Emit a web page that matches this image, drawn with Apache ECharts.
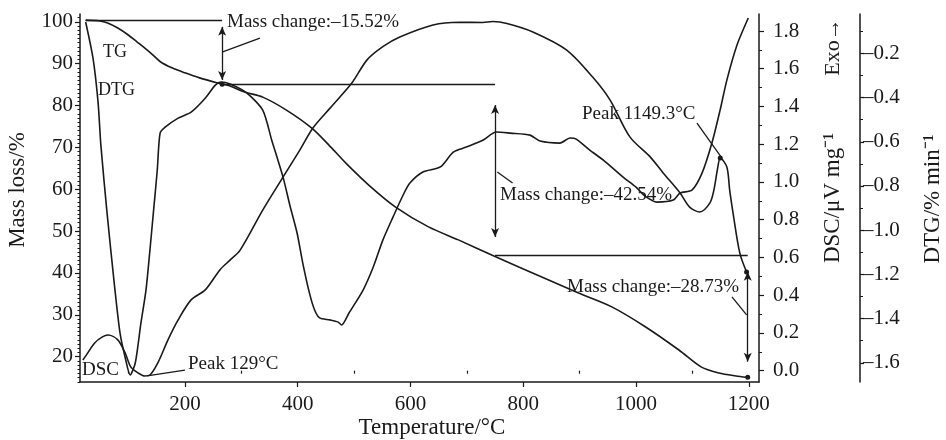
<!DOCTYPE html>
<html>
<head>
<meta charset="utf-8">
<script src="https://cdn.jsdelivr.net/npm/echarts@6.0.0/dist/echarts.min.js"></script>
<style>
  html, body { margin: 0; padding: 0; background: #fff; }
  #chart { width: 946px; height: 440px; }
</style>
</head>
<body>
<div id="chart"></div>
<script>
// TG curve (mass loss %)
const tgT = [24, 49, 63, 81, 99, 115, 129, 143, 157, 177, 200, 226, 258, 279, 306, 338, 380, 425, 455, 485, 526, 573, 632, 685, 744, 792, 845, 898, 957, 1017, 1076, 1116, 1147, 1177, 1196];
const tgMass = [100.4, 100.2, 99.7, 98.5, 96.9, 95.2, 93.7, 92.1, 90.4, 89.0, 87.8, 86.6, 85.4, 84.7, 83.2, 82.0, 78.9, 74.6, 70.6, 66.3, 61.0, 55.8, 51.0, 47.9, 44.3, 41.4, 38.3, 35.2, 31.9, 27.1, 21.6, 17.5, 16.1, 15.4, 15.1];

// DTG curve (% / min)
const dtgT = [24, 37, 46, 51, 62, 76, 85, 94, 103, 112, 122, 131, 138, 144, 151, 156, 165, 188, 211, 236, 254, 264, 280, 310, 338, 354, 374, 386, 399, 409, 421, 430, 439, 457, 471, 478, 491, 516, 534, 551, 569, 587, 599, 622, 653, 676, 699, 729, 752, 777, 812, 830, 865, 883, 894, 918, 942, 977, 1000, 1016, 1037, 1066, 1078, 1099, 1117, 1135, 1149, 1161, 1179, 1199];
const dtgRate = [-0.058, -0.221, -0.421, -0.615, -0.923, -1.271, -1.466, -1.575, -1.655, -1.601, -1.421, -1.271, -1.09, -0.924, -0.729, -0.561, -0.534, -0.493, -0.466, -0.403, -0.344, -0.330, -0.339, -0.38, -0.457, -0.593, -0.76, -0.886, -1.014, -1.149, -1.286, -1.361, -1.397, -1.406, -1.415, -1.429, -1.375, -1.271, -1.167, -1.045, -0.941, -0.841, -0.787, -0.737, -0.714, -0.647, -0.624, -0.592, -0.556, -0.561, -0.57, -0.597, -0.606, -0.583, -0.588, -0.638, -0.683, -0.76, -0.805, -0.846, -0.873, -0.864, -0.832, -0.819, -0.742, -0.601, -0.457, -0.321, -0.162, -0.04];

// DSC curve (uV/mg)
const dscT = [19, 23, 40, 53, 64, 81, 94, 104, 117, 129, 138, 152, 170, 188, 211, 236, 262, 280, 298, 338, 374, 404, 427, 457, 496, 523, 551, 581, 640, 687, 728, 746, 771, 817, 877, 923, 954, 989, 1025, 1048, 1078, 1095, 1113, 1131, 1138, 1145, 1149.3, 1161, 1166, 1172, 1184, 1196];
const dscHeat = [0.057, 0.073, 0.147, 0.178, 0.189, 0.163, 0.094, 0.02, -0.012, -0.028, -0.023, 0.041, 0.163, 0.269, 0.375, 0.428, 0.534, 0.586, 0.639, 0.851, 1.026, 1.17, 1.286, 1.39, 1.524, 1.647, 1.717, 1.768, 1.832, 1.846, 1.845, 1.85, 1.84, 1.795, 1.699, 1.556, 1.434, 1.239, 1.133, 1.048, 0.942, 0.867, 0.841, 0.889, 0.957, 1.079, 1.127, 1.079, 0.957, 0.835, 0.623, 0.523];

// tick labels
const tempTicks = [200, 400, 600, 800, 1000, 1200];
const tempMinor = [100, 300, 500, 700, 900, 1100];
const massTicks = [20, 30, 40, 50, 60, 70, 80, 90, 100];
const dscTicks = [0, 0.2, 0.4, 0.6, 0.8, 1.0, 1.2, 1.4, 1.6, 1.8];
const dscMinor = [0.1, 0.3, 0.5, 0.7, 0.9, 1.1, 1.3, 1.5, 1.7];
const dtgTicks = [-1.6, -1.4, -1.2, -1.0, -0.8, -0.6, -0.4, -0.2];
const dtgMinor = [-1.5, -1.3, -1.1, -0.9, -0.7, -0.5, -0.3, -0.1];

// mass change steps (temperature, mass level)
const stepT = [24, 266, 750, 1198];
const stepMass = [100.4, 85.1, 44.3];
const arrowEnds = [[98.8, 86.1], [80.1, 48.6], [40.3, 18.8]];

const FONT = "'Liberation Serif', 'Times New Roman', serif";
const INK = '#1a1a1a';

let massMinor = [];
for (let m = 14; m <= 101; m++) {
  if (m % 10 !== 0) massMinor.push(m);
}

function zip(xs, ys) {
  let arr = [];
  for (let i = 0; i < xs.length; i++) arr.push([xs[i], ys[i]]);
  return arr;
}

function txt(x, y, s, size, align, rot) {
  return {
    type: 'text', x: x, y: y, rotation: rot || 0, z: 10,
    style: {
      text: s, font: size + 'px ' + FONT, fill: INK,
      textAlign: align || 'left', textVerticalAlign: 'middle',
      align: align || 'left', verticalAlign: 'middle'
    }
  };
}

// annotation lines in data space (TG axis)
let marks = [];
for (let i = 0; i < 3; i++) {
  marks.push([{ coord: [stepT[i], stepMass[i]] }, { coord: [stepT[i + 1], stepMass[i]] }]);
  marks.push([
    { coord: [stepT[i + 1], arrowEnds[i][0]], symbol: 'arrow', symbolSize: [6, 9] },
    { coord: [stepT[i + 1], arrowEnds[i][1]], symbol: 'arrow', symbolSize: [6, 9] }
  ]);
}
// leader lines
const leaders = [
  [[267, 92.8], [333, 96.1]],
  [[754, 64.1], [781, 61.5]],
  [[1170, 34.3], [1196, 30.0]],
  [[133, 15.4], [200, 16.8]],
  [[1108, 75.8], [1152, 67.5]]
];
leaders.forEach(function (l) {
  marks.push([{ coord: l[0] }, { coord: l[1] }]);
});

const lineStyle = { color: INK, width: 1.6 };

const option = {
  backgroundColor: '#fff',
  animation: false,
  grid: { left: 80, right: 187, top: 14, bottom: 58 },
  xAxis: [
    {
      type: 'value', min: 14, max: 1218, position: 'bottom',
      axisLine: { onZero: false, lineStyle: { color: INK, width: 1.5 } },
      axisTick: { customValues: tempTicks, length: 5, lineStyle: { color: INK, width: 1.2 } },
      axisLabel: {
        customValues: tempTicks, fontFamily: FONT, fontSize: 21, color: INK, margin: 12,
        formatter: function (v) { return String(v); }
      },
      splitLine: { show: false }
    },
    {
      type: 'value', min: 14, max: 1218, position: 'bottom',
      axisLine: { show: false },
      axisTick: { customValues: tempMinor, length: 3, lineStyle: { color: INK, width: 1.2 } },
      axisLabel: { show: false },
      splitLine: { show: false }
    }
  ],
  yAxis: [
    {
      type: 'value', min: 13.95, max: 101.86, position: 'left',
      axisLine: { show: true, onZero: false, lineStyle: { color: INK, width: 1.5 } },
      axisTick: { show: true, customValues: massTicks, length: 5, lineStyle: { color: INK, width: 1.2 } },
      axisLabel: { customValues: massTicks, fontFamily: FONT, fontSize: 21, color: INK, margin: 7 },
      splitLine: { show: false }
    },
    {
      type: 'value', min: 13.95, max: 101.86, position: 'left',
      axisLine: { show: false },
      axisTick: { show: true, customValues: massMinor, length: 2.5, lineStyle: { color: INK, width: 1 } },
      axisLabel: { show: false },
      splitLine: { show: false }
    },
    {
      type: 'value', min: -0.06, max: 1.89, position: 'right', offset: 0,
      axisLine: { show: true, onZero: false, lineStyle: { color: INK, width: 1.5 } },
      axisTick: { show: true, customValues: dscTicks, length: 5, lineStyle: { color: INK, width: 1.2 } },
      axisLabel: {
        customValues: dscTicks, fontFamily: FONT, fontSize: 21, color: INK, margin: 14,
        formatter: function (v) { return v.toFixed(1); }
      },
      splitLine: { show: false }
    },
    {
      type: 'value', min: -0.06, max: 1.89, position: 'right', offset: 0,
      axisLine: { show: false },
      axisTick: { show: true, customValues: dscMinor, length: 3, lineStyle: { color: INK, width: 1 } },
      axisLabel: { show: false },
      splitLine: { show: false }
    },
    {
      type: 'value', min: -1.687, max: -0.022, position: 'right', offset: 101,
      axisLine: { show: true, onZero: false, lineStyle: { color: INK, width: 1.5 } },
      axisTick: { show: true, customValues: dtgTicks, length: 4, lineStyle: { color: INK, width: 1.2 } },
      axisLabel: {
        customValues: dtgTicks, fontFamily: FONT, fontSize: 21, color: INK, margin: 3,
        formatter: function (v) { return v.toFixed(1).replace('-', '\u2013'); }
      },
      splitLine: { show: false }
    },
    {
      type: 'value', min: -1.687, max: -0.022, position: 'right', offset: 101,
      axisLine: { show: false },
      axisTick: { show: true, customValues: dtgMinor, length: 3, lineStyle: { color: INK, width: 1 } },
      axisLabel: { show: false },
      splitLine: { show: false }
    }
  ],
  series: [
    {
      name: 'TG', type: 'line', xAxisIndex: 0, yAxisIndex: 0,
      data: zip(tgT, tgMass), showSymbol: false, smooth: 0.3,
      lineStyle: lineStyle, silent: true,
      markLine: {
        silent: true, symbol: ['none', 'none'], animation: false,
        lineStyle: { color: INK, width: 1.3, type: 'solid' },
        label: { show: false }, emphasis: { disabled: true },
        data: marks
      },
      markPoint: {
        symbol: 'circle', symbolSize: 5, silent: true,
        itemStyle: { color: INK }, label: { show: false },
        data: [{ coord: [stepT[3], 15.1] }, { coord: [stepT[1], stepMass[1]] }]
      }
    },
    {
      name: 'DSC', type: 'line', xAxisIndex: 0, yAxisIndex: 2,
      data: zip(dscT, dscHeat), showSymbol: false, smooth: 0.3,
      lineStyle: lineStyle, silent: true,
      markPoint: {
        symbol: 'circle', symbolSize: 5, silent: true,
        itemStyle: { color: INK }, label: { show: false },
        data: [{ coord: [1149.3, 1.127] }, { coord: [1196, 0.523] }]
      }
    },
    {
      name: 'DTG', type: 'line', xAxisIndex: 0, yAxisIndex: 4,
      data: zip(dtgT, dtgRate), showSymbol: false, smooth: 0.25,
      lineStyle: lineStyle, silent: true
    }
  ],
  graphic: [
    txt(227, 22, 'Mass change:\u201315.52%', 19),
    txt(103, 52, 'TG', 18),
    txt(98, 90, 'DTG', 18),
    txt(500, 195, 'Mass change:\u201342.54%', 19),
    txt(582, 114, 'Peak 1149.3\u00B0C', 19),
    txt(567, 287, 'Mass change:\u201328.73%', 19),
    txt(82, 370, 'DSC', 19),
    txt(188, 364, 'Peak 129\u00B0C', 19),
    txt(432, 428, 'Temperature/\u00B0C', 23, 'center'),
    txt(18, 190, 'Mass loss/%', 23, 'center', Math.PI / 2),
    txt(833, 198, 'DSC/\u03BCV mg\u207B\u00B9', 23, 'center', Math.PI / 2),
    txt(833, 47, 'Exo\u2192', 22, 'center', Math.PI / 2),
    txt(933, 199, 'DTG/% min\u207B\u00B9', 23, 'center', Math.PI / 2)
  ]
};

let myChart = echarts.init(document.getElementById('chart'), null, { renderer: 'canvas' });
myChart.setOption(option);
</script>
</body>
</html>
